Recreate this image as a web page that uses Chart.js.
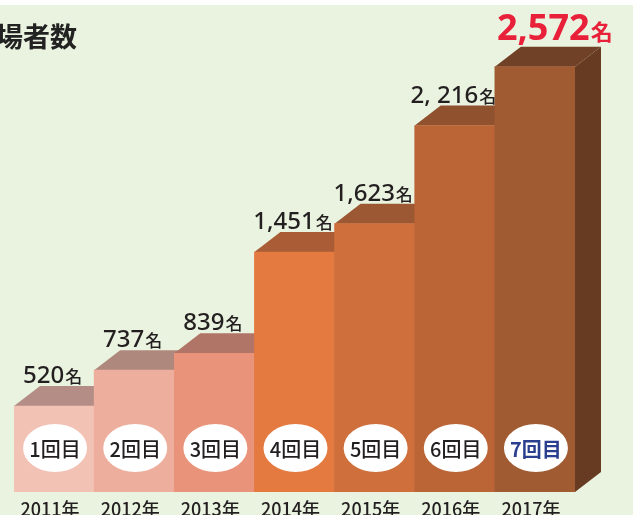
<!DOCTYPE html>
<html>
<head>
<meta charset="utf-8">
<script src="https://cdn.jsdelivr.net/npm/chart.js@4.4.1/dist/chart.umd.min.js"></script>
<style>
  html, body { margin: 0; padding: 0; background: #eaf3df; }
  canvas { display: block; }
</style>
</head>
<body>
<canvas id="chart" width="633" height="515"></canvas>
<script>
// data
var years = ['2011年', '2012年', '2013年', '2014年', '2015年', '2016年', '2017年'];
var rounds = ['1回目', '2回目', '3回目', '4回目', '5回目', '6回目', '7回目'];
var visitors = [520, 737, 839, 1451, 1623, 2216, 2572];
var valueLabels = ['520', '737', '839', '1,451', '1,623', '2, 216', '2,572'];

var frontColors = ['#f2c2b5', '#eeae9e', '#e9937a', '#e47a40', '#cf6f3c', '#bb6536', '#a15b33'];
var topColors = ['#b38d86', '#ae877d', '#b07566', '#a95c36', '#9c5733', '#8f512e', '#704127'];
var sideColor = '#673b22';

var DX = 26, DY = 20;
var numFont = '"Noto Sans", "Noto Sans CJK JP", sans-serif';
var cjkFont = '"Noto Sans CJK JP", sans-serif';

Chart.register({
    id: 'box3d',
    beforeDraw: function (chart) {
        var ctx = chart.ctx;
        ctx.save();
        ctx.fillStyle = '#eaf3df';
        ctx.fillRect(0, 0, chart.width, chart.height);
        ctx.fillStyle = '#ffffff';
        ctx.fillRect(0, 0, chart.width, 5);
        // title (cut at the left edge like the original)
        ctx.fillStyle = '#222222';
        ctx.font = 'bold 27px ' + cjkFont;
        ctx.textBaseline = 'alphabetic';
        ctx.textAlign = 'left';
        ctx.fillText('場者数', -4, 47);
        ctx.restore();
    },
    beforeDatasetsDraw: function (chart) {
        var ctx = chart.ctx;
        var meta = chart.getDatasetMeta(0);
        var base = chart.scales.y.getPixelForValue(0);
        ctx.save();
        meta.data.forEach(function (bar, i) {
            var x0 = bar.x - bar.width / 2, x1 = bar.x + bar.width / 2, yt = bar.y;
            // side face (only the last one stays visible)
            ctx.fillStyle = sideColor;
            ctx.beginPath();
            ctx.moveTo(x1, yt);
            ctx.lineTo(x1 + DX, yt - DY);
            ctx.lineTo(x1 + DX, base - DY);
            ctx.lineTo(x1, base);
            ctx.closePath();
            ctx.fill();
            // top face
            ctx.fillStyle = topColors[i];
            ctx.beginPath();
            ctx.moveTo(x0, yt);
            ctx.lineTo(x0 + DX, yt - DY);
            ctx.lineTo(x1 + DX, yt - DY);
            ctx.lineTo(x1, yt);
            ctx.closePath();
            ctx.fill();
        });
        ctx.restore();
    },
    afterDatasetsDraw: function (chart) {
        var ctx = chart.ctx;
        var meta = chart.getDatasetMeta(0);
        var base = chart.scales.y.getPixelForValue(0);
        var last = meta.data.length - 1;
        ctx.save();
        ctx.textBaseline = 'alphabetic';
        meta.data.forEach(function (bar, i) {
            var cx = bar.x;
            // value label above the box
            var isLast = i === last;
            var nf = isLast ? 'bold 36px ' + numFont : '500 24px ' + numFont;
            var kf = isLast ? 'bold 22px ' + cjkFont : '500 17px ' + cjkFont;
            ctx.font = nf;
            var w1 = ctx.measureText(valueLabels[i]).width;
            ctx.font = kf;
            var w2 = ctx.measureText('名').width;
            var lx = isLast ? 497 : cx - 2 - (w1 + w2) / 2;
            var ly = isLast ? 40 : bar.y - DY - 3;
            ctx.fillStyle = isLast ? '#e8203a' : '#231f20';
            ctx.textAlign = 'left';
            ctx.font = nf;
            ctx.fillText(valueLabels[i], lx, ly);
            ctx.font = kf;
            ctx.fillText('名', lx + w1 + 1, ly);

            // white oval with round number
            ctx.fillStyle = '#ffffff';
            ctx.beginPath();
            ctx.ellipse(cx + 1, 448, 32, 24, 0, 0, Math.PI * 2);
            ctx.fill();
            ctx.fillStyle = isLast ? '#2b3f8f' : '#231f20';
            ctx.font = (isLast ? 'bold ' : '500 ') + '20px ' + cjkFont;
            ctx.textAlign = 'center';
            ctx.textBaseline = 'middle';
            ctx.fillText(rounds[i], cx + 1, 449);

            // year under the box
            ctx.fillStyle = '#231f20';
            ctx.font = '500 18px ' + cjkFont;
            ctx.textBaseline = 'alphabetic';
            ctx.fillText(years[i], cx - 4, 516);
        });
        ctx.restore();
    }
});

new Chart(document.getElementById('chart').getContext('2d'), {
    type: 'bar',
    data: {
        labels: years,
        datasets: [{
            data: visitors,
            backgroundColor: frontColors,
            borderWidth: 0,
            categoryPercentage: 1,
            barPercentage: 1
        }]
    },
    options: {
        responsive: false,
        animation: false,
        events: [],
        layout: {
            padding: { left: 14, right: 58, top: 29, bottom: 23 }
        },
        plugins: {
            legend: { display: false },
            tooltip: { enabled: false }
        },
        scales: {
            x: { display: false },
            y: { display: false, min: 0, max: 2800 }
        }
    }
});
</script>
</body>
</html>
